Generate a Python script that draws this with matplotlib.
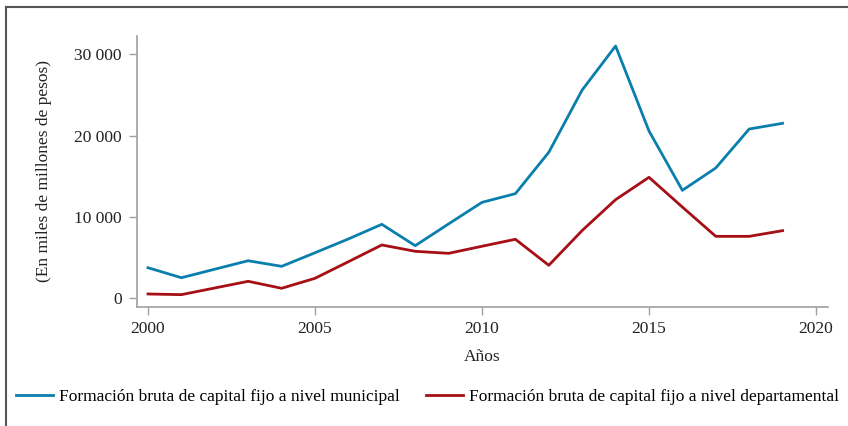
import matplotlib
matplotlib.use("Agg")
import matplotlib.pyplot as plt
from matplotlib.ticker import FuncFormatter
from matplotlib.lines import Line2D

years = list(range(2000, 2020))
municipal = [3760, 2530, 3580, 4620, 3930, 5600, 7300, 9100, 6470, 9150,
             11800, 12870, 17960, 25620, 31030, 20580, 13280, 16030, 20820, 21520]
departamental = [530, 450, 1270, 2090, 1230, 2460, 4500, 6560, 5780, 5530,
                 6400, 7260, 4060, 8340, 12130, 14880, 11220, 7620, 7620, 8320]
labels = ["Formación bruta de capital fijo a nivel municipal",
          "Formación bruta de capital fijo a nivel departamental"]
yticks = [0, 10000, 20000, 30000]
xticks = [2000, 2005, 2010, 2015, 2020]

plt.rcParams['font.family'] = ['Liberation Serif', 'DejaVu Serif']
fig = plt.figure(figsize=(8.48, 4.26), dpi=100)
ax = fig.add_axes([137/848, 1-307/426, (828-137)/848, (307-36)/426])

c1 = '#0a7fad'
c2 = '#a50f15'
ax.plot(years, municipal, color=c1, lw=2, label=labels[0])
ax.plot(years, departamental, color=c2, lw=2, label=labels[1])

ax.set_xlim(1999.67, 2020.36)
ax.set_ylim(-1070, 32260)
ax.set_xticks(xticks)
ax.set_yticks(yticks)
ax.yaxis.set_major_formatter(FuncFormatter(lambda v, p: f"{int(v):,}".replace(",", " ")))
for s in ['top', 'right']:
    ax.spines[s].set_visible(False)
for s in ['left', 'bottom']:
    ax.spines[s].set_color('#a0a0a0')
    ax.spines[s].set_linewidth(1.2)
ax.tick_params(axis='both', colors='#a0a0a0', labelcolor='#222222', labelsize=12.5,
               length=6, width=1, direction='out', pad=5)
ax.tick_params(axis='x', pad=4)
ax.set_xlabel("Años", fontsize=12.5, color='#222222', labelpad=9)
ax.set_ylabel("(En miles de millones de pesos)", fontsize=12.5, color='#222222', labelpad=16)

handles = [Line2D([0], [0], color=c1, lw=2), Line2D([0], [0], color=c2, lw=2)]
fig.legend(handles, labels, loc='center', bbox_to_anchor=(427.5/848, 1-397/426), ncol=2,
           frameon=False, fontsize=12.5, handlelength=2.1, handletextpad=0.35,
           columnspacing=1.55, borderpad=0, borderaxespad=0)

# figure border (left and top)
fig.add_artist(Line2D([6/848, 6/848], [0, 1-7/426], color='#555555', lw=1.5, transform=fig.transFigure))
fig.add_artist(Line2D([6/848, 1], [1-7/426, 1-7/426], color='#555555', lw=1.5, transform=fig.transFigure))

fig.savefig("out.png", dpi=100)
